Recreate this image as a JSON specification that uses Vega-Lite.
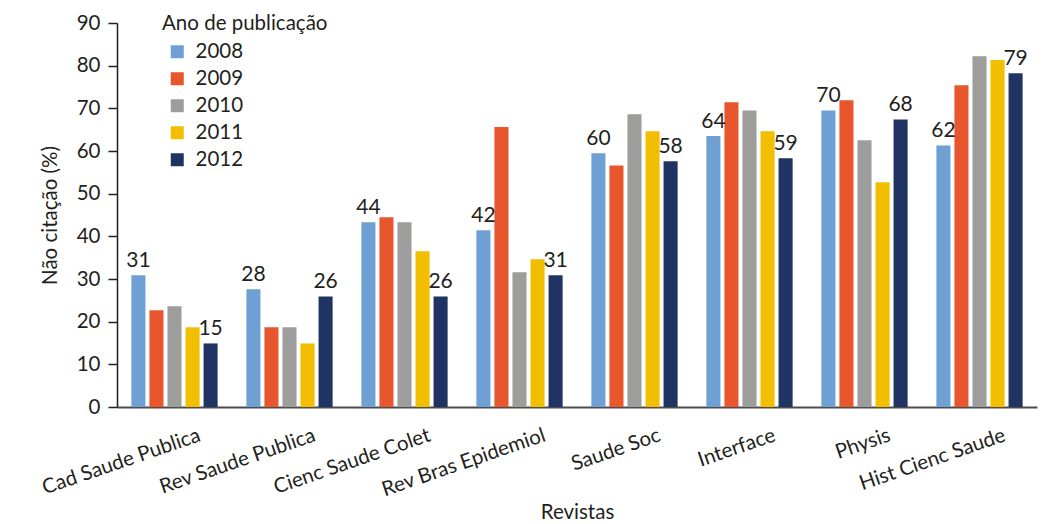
{
  "$schema": "https://vega.github.io/schema/vega-lite/v6.json",
  "autosize": {"type": "none"},
  "width": 920,
  "height": 384,
  "padding": {"left": 117, "top": 23, "right": 6, "bottom": 117},
  "background": "white",
  "config": {
    "font": "Lato",
    "view": {"stroke": null},
    "axis": {"grid": false, "labelFont": "Lato", "titleFont": "Lato", "labelColor": "#231f20", "titleColor": "#231f20", "labelFontSize": 20.5, "titleFontSize": 20.5, "titleFontWeight": "normal"},
    "legend": {"labelFont": "Lato", "titleFont": "Lato"}
  },
  "data": {
    "values": [
      {"revista": "Cad Saude Publica", "ano": "2008", "valor": 30.9, "rotulo": "31"},
      {"revista": "Cad Saude Publica", "ano": "2009", "valor": 22.7, "rotulo": null},
      {"revista": "Cad Saude Publica", "ano": "2010", "valor": 23.6, "rotulo": null},
      {"revista": "Cad Saude Publica", "ano": "2011", "valor": 18.7, "rotulo": null},
      {"revista": "Cad Saude Publica", "ano": "2012", "valor": 14.9, "rotulo": "15"},
      {"revista": "Rev Saude Publica", "ano": "2008", "valor": 27.6, "rotulo": "28"},
      {"revista": "Rev Saude Publica", "ano": "2009", "valor": 18.7, "rotulo": null},
      {"revista": "Rev Saude Publica", "ano": "2010", "valor": 18.7, "rotulo": null},
      {"revista": "Rev Saude Publica", "ano": "2011", "valor": 14.9, "rotulo": null},
      {"revista": "Rev Saude Publica", "ano": "2012", "valor": 25.9, "rotulo": "26"},
      {"revista": "Cienc Saude Colet", "ano": "2008", "valor": 43.3, "rotulo": "44"},
      {"revista": "Cienc Saude Colet", "ano": "2009", "valor": 44.5, "rotulo": null},
      {"revista": "Cienc Saude Colet", "ano": "2010", "valor": 43.3, "rotulo": null},
      {"revista": "Cienc Saude Colet", "ano": "2011", "valor": 36.5, "rotulo": null},
      {"revista": "Cienc Saude Colet", "ano": "2012", "valor": 25.9, "rotulo": "26"},
      {"revista": "Rev Bras Epidemiol", "ano": "2008", "valor": 41.4, "rotulo": "42"},
      {"revista": "Rev Bras Epidemiol", "ano": "2009", "valor": 65.6, "rotulo": null},
      {"revista": "Rev Bras Epidemiol", "ano": "2010", "valor": 31.6, "rotulo": null},
      {"revista": "Rev Bras Epidemiol", "ano": "2011", "valor": 34.6, "rotulo": null},
      {"revista": "Rev Bras Epidemiol", "ano": "2012", "valor": 30.9, "rotulo": "31"},
      {"revista": "Saude Soc", "ano": "2008", "valor": 59.5, "rotulo": "60"},
      {"revista": "Saude Soc", "ano": "2009", "valor": 56.6, "rotulo": null},
      {"revista": "Saude Soc", "ano": "2010", "valor": 68.6, "rotulo": null},
      {"revista": "Saude Soc", "ano": "2011", "valor": 64.6, "rotulo": null},
      {"revista": "Saude Soc", "ano": "2012", "valor": 57.6, "rotulo": "58"},
      {"revista": "Interface", "ano": "2008", "valor": 63.5, "rotulo": "64"},
      {"revista": "Interface", "ano": "2009", "valor": 71.4, "rotulo": null},
      {"revista": "Interface", "ano": "2010", "valor": 69.5, "rotulo": null},
      {"revista": "Interface", "ano": "2011", "valor": 64.6, "rotulo": null},
      {"revista": "Interface", "ano": "2012", "valor": 58.3, "rotulo": "59"},
      {"revista": "Physis", "ano": "2008", "valor": 69.5, "rotulo": "70"},
      {"revista": "Physis", "ano": "2009", "valor": 71.9, "rotulo": null},
      {"revista": "Physis", "ano": "2010", "valor": 62.5, "rotulo": null},
      {"revista": "Physis", "ano": "2011", "valor": 52.7, "rotulo": null},
      {"revista": "Physis", "ano": "2012", "valor": 67.4, "rotulo": "68"},
      {"revista": "Hist Cienc Saude", "ano": "2008", "valor": 61.3, "rotulo": "62"},
      {"revista": "Hist Cienc Saude", "ano": "2009", "valor": 75.4, "rotulo": null},
      {"revista": "Hist Cienc Saude", "ano": "2010", "valor": 82.2, "rotulo": null},
      {"revista": "Hist Cienc Saude", "ano": "2011", "valor": 81.3, "rotulo": null},
      {"revista": "Hist Cienc Saude", "ano": "2012", "valor": 78.2, "rotulo": "79"}
    ]
  },
  "encoding": {
    "x": {
      "field": "revista", "type": "nominal", "sort": null,
      "scale": {"paddingInner": 0.25, "paddingOuter": 0.125},
      "axis": {
        "title": "Revistas", "labelAngle": -19, "labelAlign": "right", "labelBaseline": "top",
        "labelOffset": 22, "labelPadding": 18, "ticks": false,
        "domainColor": "#4d4d4d", "domainWidth": 2, "titlePadding": 2
      }
    },
    "xOffset": {"field": "ano", "type": "nominal", "scale": {"paddingInner": 0.22, "paddingOuter": 0}},
    "y": {
      "field": "valor", "type": "quantitative",
      "scale": {"domain": [0, 90], "nice": false},
      "axis": {
        "title": "Não citação (%)", "values": [0, 10, 20, 30, 40, 50, 60, 70, 80, 90],
        "tickSize": 9, "tickColor": "#231f20", "tickWidth": 1.5, "domainColor": "#231f20", "domainWidth": 1.5,
        "labelPadding": 8, "titlePadding": 16
      }
    }
  },
  "layer": [
    {
      "mark": {"type": "bar"},
      "encoding": {
        "color": {
          "field": "ano", "type": "nominal",
          "scale": {"domain": ["2008", "2009", "2010", "2011", "2012"], "range": ["#6fa0d4", "#e8562d", "#9d9d9c", "#f2be00", "#203464"]},
          "legend": {
            "title": "Ano de publicação", "orient": "none", "legendX": 45, "legendY": -9,
            "titleFontSize": 20.5, "titleFontWeight": "normal", "titleColor": "#231f20", "titlePadding": 7,
            "labelFontSize": 20.5, "labelColor": "#231f20", "labelOffset": 8,
            "symbolType": "square", "symbolSize": 169, "symbolStrokeWidth": 0, "symbolOpacity": 1, "symbolOffset": 5,
            "rowPadding": 6, "padding": 0
          }
        }
      }
    },
    {
      "transform": [{"filter": "datum.rotulo != null"}],
      "mark": {"type": "text", "baseline": "bottom", "dy": -4, "fontSize": 21, "color": "#231f20", "font": "Lato"},
      "encoding": {"text": {"field": "rotulo", "type": "nominal"}}
    }
  ]
}
